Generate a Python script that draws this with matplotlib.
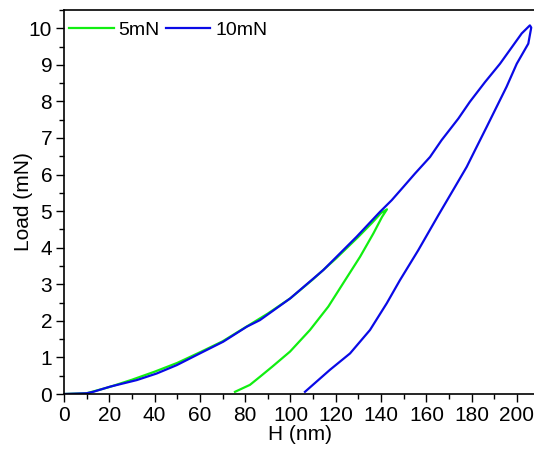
import matplotlib
matplotlib.use("Agg")
import matplotlib.pyplot as plt
import matplotlib.ticker as mticker

plt.rcParams["font.family"] = ["Liberation Sans", "DejaVu Sans"]

GREEN = "#11ee11"
BLUE = "#0a0ae6"

# 5 mN indentation: loading then unloading (H in nm, load in mN)
h_5_load = [0, 10, 20, 30, 40, 50, 60, 70, 80, 90, 100, 110, 120, 130, 136, 140, 142.6]
p_5_load = [0, 0.02, 0.19, 0.39, 0.61, 0.85, 1.14, 1.44, 1.82, 2.2, 2.62, 3.14, 3.7, 4.3, 4.68, 4.95, 5.05]
h_5_unload = [142.6, 140.4, 136.6, 130.7, 124.1, 116.7, 108.6, 99.8, 92.0, 86.5, 82.1, 75.5]
p_5_unload = [5.05, 4.84, 4.39, 3.75, 3.11, 2.39, 1.75, 1.16, 0.75, 0.47, 0.25, 0.06]

# 10 mN indentation
h_10_load = [0, 10, 12.9, 20.3, 32.1, 40.9, 49.8, 60.0, 70.3, 80.7, 86.5, 99.8, 114.5, 129.2,
             139.5, 144.7, 149.8, 155.0, 161.6, 166.7, 174.1, 179.2, 185.9, 192.5, 198.4,
             202.1, 205.7]
p_10_load = [0, 0.02, 0.06, 0.2, 0.38, 0.56, 0.79, 1.11, 1.43, 1.84, 2.02, 2.61, 3.39, 4.3,
             4.98, 5.3, 5.66, 6.03, 6.48, 6.94, 7.53, 7.99, 8.53, 9.03, 9.54, 9.86, 10.08]
h_10_unload = [205.7, 206.3, 205.0, 199.9, 195.4, 191.0, 186.6, 181.5, 177.8, 172.6,
               165.3, 156.4, 148.3, 142.5, 135.1, 126.3, 117.4, 106.4]
p_10_unload = [10.08, 10.02, 9.58, 9.03, 8.4, 7.85, 7.3, 6.67, 6.21, 5.66,
               4.89, 3.93, 3.11, 2.48, 1.75, 1.11, 0.66, 0.06]

fig = plt.figure(figsize=(5.34, 4.5), dpi=100)
ax = fig.add_axes([64 / 534, 56 / 450, 472 / 534, 384 / 450])

ax.plot(h_5_load + h_5_unload[1:], p_5_load + p_5_unload[1:], color=GREEN, linewidth=1.6, label="5mN")
ax.plot(h_10_load + h_10_unload[1:], p_10_load + p_10_unload[1:], color=BLUE, linewidth=1.6, label="10mN")

ax.set_xlim(0, 208.4)
ax.set_ylim(0, 10.5)
ax.xaxis.set_major_locator(mticker.MultipleLocator(20))
ax.xaxis.set_minor_locator(mticker.MultipleLocator(10))
ax.yaxis.set_major_locator(mticker.MultipleLocator(1))
ax.yaxis.set_minor_locator(mticker.MultipleLocator(0.5))
ax.tick_params(which="major", direction="out", length=6, width=1, labelsize=15, pad=2.5)
ax.tick_params(which="minor", direction="out", length=3.5, width=1)
ax.spines["right"].set_visible(False)
for side in ("left", "bottom", "top"):
    ax.spines[side].set_linewidth(1.2)

ax.set_xlabel("H (nm)", fontsize=15, labelpad=0)
ax.set_ylabel("Load (mN)", fontsize=15, labelpad=-3)

ax.legend(loc="upper left", bbox_to_anchor=(5 / 472, 1 - 11 / 384), ncol=2, frameon=False,
          fontsize=14, handlelength=2.3, handletextpad=0.25, columnspacing=0.3,
          borderaxespad=0, borderpad=0)

fig.savefig("out.png", dpi=100)
